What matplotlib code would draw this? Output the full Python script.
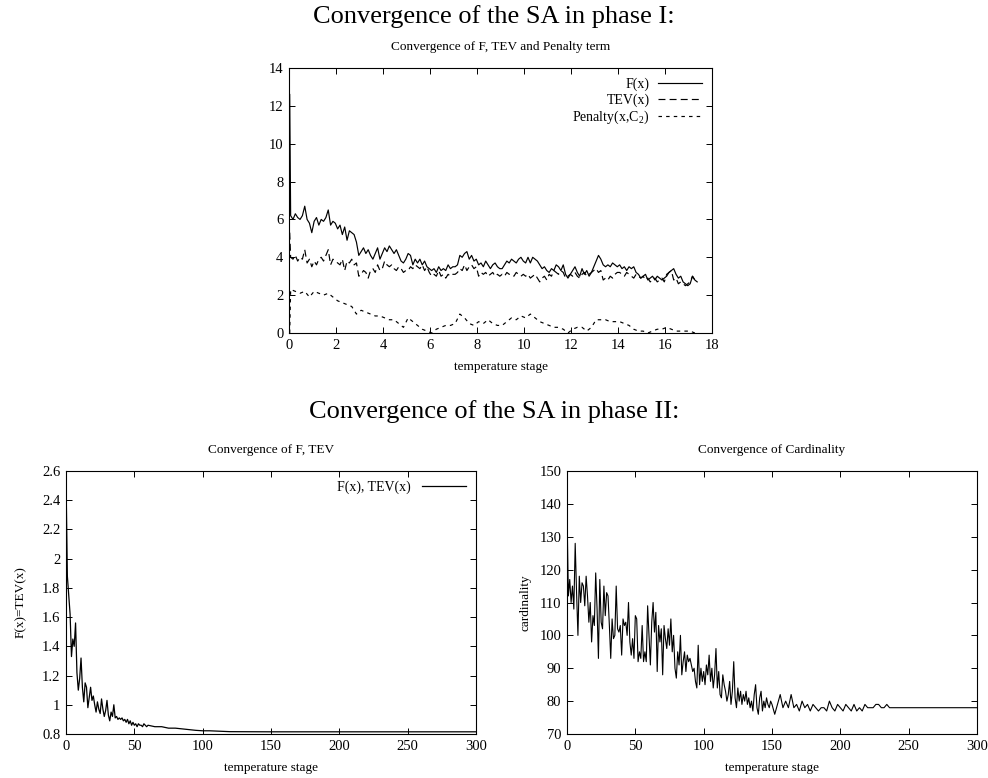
import matplotlib
matplotlib.use("Agg")
import matplotlib.pyplot as plt
import numpy as np

config = {
    "font.family": ["Liberation Serif", "DejaVu Serif"],
    "font.size": 9.5,
    "mathtext.fontset": "custom",
    "mathtext.rm": "Liberation Serif",
    "mathtext.it": "Liberation Serif:italic",
    "lines.scale_dashes": False,
    "axes.linewidth": 0.8,
    "xtick.direction": "in",
    "ytick.direction": "in",
    "xtick.top": True,
    "ytick.right": True,
    "xtick.major.size": 4,
    "ytick.major.size": 4,
    "xtick.major.width": 0.7,
    "ytick.major.width": 0.7,
}
plt.rcParams.update(config)

# ---- phase I: F, TEV and penalty term ----
f_first = 12.6
f_phase1 = [
    6.2, 6.0, 6.3, 6.1, 6.0, 6.2, 6.7, 6.0, 5.8, 5.3,
    5.9, 6.1, 5.7, 6.0, 5.9, 6.1, 6.5, 5.7, 5.9, 5.8,
    5.5, 5.7, 5.2, 5.6, 4.9, 5.4, 5.3, 5.2, 4.8, 4.1,
    4.3, 4.5, 4.2, 4.4, 4.1, 3.9, 4.2, 4.5, 3.9, 4.2,
    4.5, 4.3, 4.6, 4.4, 4.2, 4.4, 4.1, 3.8, 3.7, 3.9,
    4.2, 4.1, 3.6, 3.9, 3.7, 3.9, 3.6, 3.8, 3.5, 3.4,
    3.3, 3.4, 3.2, 3.5, 3.3, 3.4, 3.3, 3.6, 3.4, 3.5,
    3.5, 3.6, 4.1, 4.0, 4.2, 4.3, 3.9, 4.1, 3.8, 3.9,
    3.6, 3.7, 3.5, 3.8, 3.6, 3.4, 3.6, 3.7, 3.5, 3.4,
    3.4, 3.6, 3.8, 3.7, 3.9, 3.8, 3.7, 3.9, 4.0, 3.8,
    3.7, 4.0, 3.7, 4.0, 3.9, 3.8, 3.6, 3.4, 3.5, 3.3,
    3.2, 3.4, 3.3, 3.6, 3.5, 3.3, 3.6, 3.1, 2.9, 3.1,
    3.3, 3.5, 3.2, 3.0, 3.4, 3.1, 3.3, 3.0, 3.2, 3.5,
    3.8, 4.1, 3.9, 3.6, 3.5, 3.6, 3.5, 3.7, 3.6, 3.5,
    3.6, 3.4, 3.5, 3.3, 3.5, 3.4, 3.5, 3.2, 3.1, 2.9,
    3.0, 3.1, 2.8, 2.9, 3.0, 2.8, 3.0, 2.9, 2.8, 2.9,
    3.0, 3.2, 3.3, 3.4, 3.1, 2.9, 3.0, 2.7, 2.6, 2.5,
    2.6, 3.0, 2.8, 2.7,
]
tev_first = 5.3
tev_phase1 = [
    4.0, 3.9, 4.1, 3.8, 4.0, 3.9, 4.4, 3.7, 3.9, 3.5,
    3.8, 3.6, 3.9, 4.0, 3.8, 4.1, 4.4, 3.6, 3.9, 3.8,
    3.7, 3.6, 3.9, 3.3, 3.8, 3.7, 3.9, 3.6, 3.7, 3.0,
    3.1, 3.3, 3.2, 2.9, 3.3, 3.4, 3.2, 3.6, 3.3, 3.4,
    3.8, 3.6, 3.5, 3.6, 3.4, 3.3, 3.5, 3.4, 3.2, 3.3,
    3.3, 3.5, 3.4, 3.6, 3.5, 3.4, 3.6, 3.3, 3.5, 3.2,
    3.0, 3.1, 3.0, 3.3, 3.0, 3.1, 2.9, 3.1, 3.0, 3.1,
    3.1, 3.2, 3.4, 3.3, 3.6, 3.3, 3.5, 3.6, 3.4, 3.5,
    3.0, 3.2, 3.1, 3.2, 3.0, 3.1, 3.2, 3.0, 3.1, 3.0,
    3.1, 3.0, 3.2, 3.1, 3.1, 3.0, 3.2, 3.1, 3.0, 3.1,
    3.0, 3.1, 2.9, 3.0, 3.1, 2.9, 2.7, 2.9, 3.0, 2.8,
    3.1, 3.0, 3.3, 3.2, 3.1, 3.3, 3.2, 2.9, 3.0, 3.1,
    3.0, 3.2, 3.0, 2.9, 3.1, 3.2, 3.0, 3.1, 3.2, 3.3,
    3.4, 3.2, 3.3, 2.8, 2.9, 2.8, 3.0, 2.9, 3.1, 3.2,
    3.2, 3.1, 3.0, 3.2, 3.1, 3.0, 2.9, 3.1, 3.0, 2.9,
    3.0, 2.8, 2.9, 2.7, 2.8, 2.9, 2.7, 2.8, 2.9, 2.7,
    3.1, 3.2, 3.3, 2.8, 2.9, 2.6, 2.7, 2.6, 2.5, 2.6,
    2.7, 3.0, 2.8, 2.7,
]
pen_first = 0.0
pen_phase1 = [
    2.3, 2.2, 2.1, 2.2, 1.9,
    2.2, 2.1, 2.0, 2.1, 1.9,
    1.7, 1.6, 1.5, 1.4, 1.0,
    1.2, 1.1, 1.0, 0.9, 0.9,
    0.8, 0.7, 0.7, 0.5, 0.3,
    0.8, 0.6, 0.4, 0.2, 0.1,
    0.0, 0.2, 0.3, 0.4, 0.4,
    0.5, 1.0, 0.8, 0.5, 0.4,
    0.6, 0.5, 0.7, 0.5, 0.4,
    0.4, 0.6, 0.8, 0.7, 0.9,
    0.8, 1.0, 0.8, 0.6, 0.5,
    0.4, 0.3, 0.3, 0.2, 0.0,
    0.2, 0.3, 0.3, 0.1, 0.3,
    0.7, 0.7, 0.7, 0.6, 0.6,
    0.6, 0.5, 0.4, 0.2, 0.1,
    0.1, 0.0, 0.1, 0.2, 0.2,
    0.3, 0.2, 0.1, 0.1, 0.1,
    0.1, 0.0,
]

# ---- phase II: F = TEV ----
ftev_head = [
    2.55, 1.88, 1.75, 1.62, 1.33, 1.45, 1.40, 1.56, 1.22, 1.10,
    1.18, 1.32, 1.12, 1.02, 1.15, 1.12, 0.98, 1.05, 1.12, 1.03,
    1.06, 1.00, 0.95, 1.02, 0.97, 0.94, 1.04, 0.97, 0.92, 0.96,
    1.03, 0.93, 0.89, 0.95, 0.92, 1.00, 0.91, 0.92, 0.90, 0.91,
    0.90, 0.91, 0.89, 0.90, 0.88, 0.90, 0.87, 0.89, 0.86, 0.88,
    0.86, 0.87, 0.85, 0.87, 0.86, 0.86, 0.85, 0.87, 0.86, 0.85, 0.86,
]
ftev_tail_stage = [65, 70, 75, 80, 85, 90, 95, 100, 105, 110, 115, 120, 150, 300]
ftev_tail = [0.85, 0.85, 0.84, 0.84, 0.835, 0.83, 0.825, 0.822, 0.822,
             0.82, 0.818, 0.816, 0.815, 0.815]

# ---- phase II: cardinality ----
card_head = [
    138, 112, 117, 110, 115, 108, 128, 113, 100, 118,
    110, 116, 115, 109, 118, 112, 104, 110, 98, 106,
    103, 119, 108, 93, 117, 104, 102, 115, 106, 113,
    112, 103, 93, 105, 99, 100, 115, 102, 101, 103,
    94, 105, 103, 104, 100, 110, 98, 94, 99, 93,
    106, 105, 92, 95, 93, 103, 92, 95, 92, 109,
    100, 91, 104, 110, 101, 107, 89, 103, 98, 102,
    88, 103, 99, 96, 102, 97, 105, 95, 100, 90,
    87, 95, 91, 100, 88, 92, 95, 89, 94, 92,
    93, 91, 89, 90, 86, 84, 97, 85, 90, 86,
    89, 85, 91, 88, 94, 86, 90, 84, 88, 96,
    84, 89, 82, 81, 88, 85, 83, 80, 82, 86,
    79, 83, 92, 81, 78, 84, 80, 83, 79, 82,
    80, 83, 79, 81, 78, 80, 77, 82, 85, 78,
    76, 81, 83, 77, 80, 78, 81, 79, 78, 80,
    79,
]
card_tail = [
    76, 79, 82, 78, 80, 78, 82, 78, 79, 77,
    80, 78, 79, 77, 79, 78, 77, 78, 78, 77,
    80, 78, 77, 79, 78, 77, 79, 78, 77, 79,
    77, 78, 77, 79, 78, 78, 78, 79, 79, 78,
    78, 79, 78, 78, 78,
]
card_end = 78

# stage grids
dt = 0.1
f_stage = [0.03] + list(0.07 + dt * np.arange(len(f_phase1)))
pen_stage = [0.03] + list(0.07 + 2 * dt * np.arange(len(pen_phase1)))
ftev_stage = list(np.arange(len(ftev_head))) + ftev_tail_stage
card_stage = list(np.arange(len(card_head))) + \
    list(152 + 2 * np.arange(len(card_tail))) + [300]

W, H = 988, 778
fig = plt.figure(figsize=(W / 100, H / 100), dpi=100)


def rect(l, r, t, b):
    return [l / W, 1 - b / H, (r - l) / W, (b - t) / H]


# ---------------- phase I ----------------
fig.text(0.5, 1 - 17 / H, "Convergence of the SA in phase I:", ha="center",
         va="center", fontsize=19)
ax1 = fig.add_axes(rect(289, 712, 68, 333))
ax1.plot(f_stage, [f_first] + f_phase1, color="black", lw=0.85, label="F(x)")
ax1.plot(f_stage, [tev_first] + tev_phase1, color="black", lw=0.85,
         dashes=(5, 3), label="TEV(x)")
ax1.plot(pen_stage, [pen_first] + pen_phase1, color="black", lw=0.85,
         dashes=(2.5, 3), label="Penalty(x,C$_2$)")
ax1.set_xlim(0, 18)
ax1.set_ylim(0, 14)
ax1.set_xticks(np.arange(0, 19, 2))
ax1.set_yticks(np.arange(0, 15, 2))
ax1.set_title("Convergence of F, TEV and Penalty term", fontsize=9.5, pad=13)
ax1.set_xlabel("temperature stage", fontsize=9.5, labelpad=7)
ax1.legend(loc="upper right", frameon=False, markerfirst=False,
           handlelength=3.2, handletextpad=0.6, labelspacing=0.15,
           borderaxespad=0.3, fontsize=10)

# ---------------- phase II ----------------
fig.text(0.5, 1 - 412 / H, "Convergence of the SA in phase II:", ha="center",
         va="center", fontsize=19)

ax2 = fig.add_axes(rect(66, 476, 471, 734))
ax2.plot(ftev_stage, ftev_head + ftev_tail, color="black", lw=0.9,
         label="F(x), TEV(x)")
ax2.set_xlim(0, 300)
ax2.set_ylim(0.8, 2.6)
ax2.set_xticks(np.arange(0, 301, 50))
ax2.set_yticks(np.round(np.arange(0.8, 2.61, 0.2), 1))
ax2.set_yticklabels(["0.8", "1", "1.2", "1.4", "1.6", "1.8", "2", "2.2",
                     "2.4", "2.6"])
ax2.set_title("Convergence of F, TEV", fontsize=9.5, pad=13)
ax2.set_xlabel("temperature stage", fontsize=9.5, labelpad=7)
ax2.set_ylabel("F(x)=TEV(x)", fontsize=9.5, labelpad=11)
ax2.legend(loc="upper right", frameon=False, markerfirst=False,
           handlelength=3.2, handletextpad=0.8, borderaxespad=0.3,
           fontsize=10)

ax3 = fig.add_axes(rect(567, 977, 471, 734))
ax3.plot(card_stage, card_head + card_tail + [card_end], color="black", lw=0.8)
ax3.set_xlim(0, 300)
ax3.set_ylim(70, 150)
ax3.set_xticks(np.arange(0, 301, 50))
ax3.set_yticks(np.arange(70, 151, 10))
ax3.set_title("Convergence of Cardinality", fontsize=9.5, pad=13)
ax3.set_xlabel("temperature stage", fontsize=9.5, labelpad=7)
ax3.set_ylabel("cardinality", fontsize=9.5, labelpad=6)

for ax in (ax1, ax2, ax3):
    ax.tick_params(labelsize=10.5, pad=4)

plt.savefig("out.png", dpi=100)
